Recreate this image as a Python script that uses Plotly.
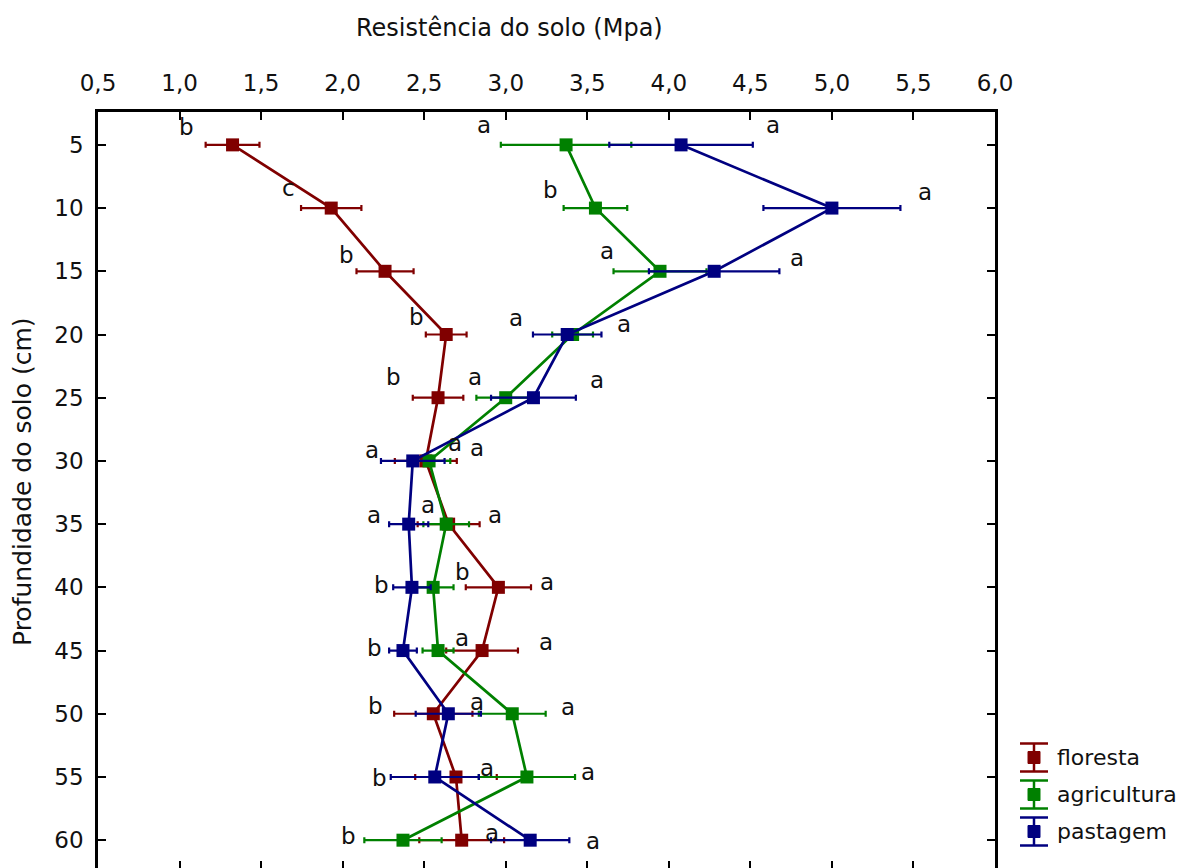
import plotly.graph_objects as go

# ---------------- data ----------------
depth = [5, 10, 15, 20, 25, 30, 35, 40, 45, 50, 55, 60]

floresta = [1.325, 1.93, 2.26, 2.635, 2.585, 2.51, 2.65, 2.955, 2.855, 2.556, 2.695, 2.73]
floresta_err = [0.165, 0.185, 0.175, 0.125, 0.155, 0.19, 0.19, 0.20, 0.22, 0.24, 0.25, 0.26]

agricultura = [3.37, 3.55, 3.946, 3.41, 3.0, 2.53, 2.635, 2.555, 2.585, 3.04, 3.13, 2.37]
agricultura_err = [0.40, 0.195, 0.285, 0.125, 0.18, 0.13, 0.14, 0.125, 0.095, 0.205, 0.295, 0.237]

pastagem = [4.075, 5.0, 4.278, 3.377, 3.17, 2.43, 2.405, 2.425, 2.37, 2.648, 2.565, 3.15]
pastagem_err = [0.44, 0.42, 0.40, 0.21, 0.26, 0.195, 0.12, 0.115, 0.085, 0.20, 0.27, 0.24]

series_names = ["floresta", "agricultura", "pastagem"]
series_colors = ["#800000", "#008000", "#000080"]

# significance letters (text) and where they are written
letters = ["b", "a", "a",
           "c", "b", "a",
           "b", "a", "a",
           "b", "a", "a",
           "b", "a", "a",
           "a", "a", "a",
           "a", "a", "a",
           "b", "b", "a",
           "b", "a", "a",
           "b", "a", "a",
           "b", "a", "a",
           "b", "a", "a"]
letter_x = [1.04, 2.867, 4.64,
            1.665, 3.276, 5.57,
            2.025, 3.619, 4.786,
            2.454, 3.063, 3.725,
            2.309, 2.811, 3.558,
            2.178, 2.689, 2.822,
            2.192, 2.523, 2.934,
            2.239, 2.732, 3.251,
            2.198, 2.73, 3.245,
            2.204, 2.822, 3.382,
            2.229, 2.883, 3.504,
            2.033, 2.914, 3.535]
letter_y = [3.55, 3.4, 3.4,
            8.4, 8.55, 8.75,
            13.7, 13.4, 13.94,
            18.6, 18.7, 19.2,
            23.4, 23.4, 23.6,
            29.1, 28.6, 29.0,
            34.3, 33.5, 34.3,
            39.8, 38.8, 39.6,
            44.8, 44.0, 44.3,
            49.4, 49.1, 49.5,
            55.1, 54.3, 54.6,
            59.7, 59.4, 60.1]

x_title = "Resistência do solo (Mpa)"
y_title = "Profundidade do solo (cm)"

# ---------------- layout geometry ----------------
OFF = 8                      # default page body margin
W, H = 1185 - OFF, 868 - OFF
ML, MR, MT, MB = 98 - OFF, 190, 112 - OFF, 0
PW, PH = W - ML - MR, H - MT - MB
FONT = "DejaVu Sans"
TXT = "#111111"


def px(xp):
    """page pixel x -> paper coordinate"""
    return (xp - OFF - ML) / PW


def py(yp):
    """page pixel y -> paper coordinate"""
    return (H - MB - (yp - OFF)) / PH


fig = go.Figure()

values = [floresta, agricultura, pastagem]
errors = [floresta_err, agricultura_err, pastagem_err]
for name, col, v, e in zip(series_names, series_colors, values, errors):
    fig.add_trace(go.Scatter(
        x=v, y=depth, name=name, mode="lines+markers",
        line=dict(color=col, width=2.7),
        marker=dict(symbol="square", size=13, color=col),
        error_x=dict(type="data", array=e, visible=True, color=col,
                     thickness=2.2, width=3),
        hoverinfo="skip",
    ))

# invisible trace on the bottom tick axis
fig.add_trace(go.Scatter(x=floresta, y=depth, xaxis="x2", mode="markers",
                         marker=dict(opacity=0), hoverinfo="skip",
                         showlegend=False))

annotations = []
for t, lx, ly in zip(letters, letter_x, letter_y):
    annotations.append(dict(x=lx, y=ly, xref="x", yref="y", text=t,
                            showarrow=False,
                            font=dict(family=FONT, size=23, color=TXT),
                            xanchor="center", yanchor="middle"))

annotations.append(dict(x=px(509), y=py(28), xref="paper", yref="paper",
                        text=x_title, showarrow=False,
                        font=dict(family=FONT, size=24, color=TXT),
                        xanchor="center", yanchor="middle"))
annotations.append(dict(x=px(22), y=py(482), xref="paper", yref="paper",
                        text=y_title, showarrow=False, textangle=-90,
                        font=dict(family=FONT, size=25, color=TXT),
                        xanchor="center", yanchor="middle"))

# legend (I-beam glyphs like the original)
shapes = []
leg_cy = [757.5, 794.5, 831.5]
icx = 1034
for name, col, cy in zip(series_names, series_colors, leg_cy):
    shapes.append(dict(type="line", xref="paper", yref="paper",
                       x0=px(icx), x1=px(icx), y0=py(cy - 14), y1=py(cy + 14),
                       line=dict(color=col, width=2.5)))
    for dy in (-14, 14):
        shapes.append(dict(type="line", xref="paper", yref="paper",
                           x0=px(icx - 14), x1=px(icx + 14),
                           y0=py(cy + dy), y1=py(cy + dy),
                           line=dict(color=col, width=2.5)))
    shapes.append(dict(type="rect", xref="paper", yref="paper",
                       x0=px(icx - 6), x1=px(icx + 6),
                       y0=py(cy - 6), y1=py(cy + 6),
                       fillcolor=col, line=dict(color=col, width=1)))
    annotations.append(dict(x=px(1055), y=py(cy), xref="paper", yref="paper",
                            text=name, showarrow=False,
                            font=dict(family=FONT, size=22, color=TXT),
                            xanchor="left", yanchor="middle"))

axis_common = dict(showgrid=False, zeroline=False, ticks="inside",
                   tickcolor="black", tickwidth=2)

fig.update_layout(
    width=W, height=H,
    margin=dict(l=ML, r=MR, t=MT, b=MB, pad=0),
    paper_bgcolor="white", plot_bgcolor="white",
    showlegend=False,
    separators=",.",
    font=dict(family=FONT, size=22, color="black"),
    xaxis=dict(side="top", range=[0.5, 6.0], tick0=0.5, dtick=0.5,
               tickformat=".1f", ticklen=8, showline=True, linecolor="black",
               linewidth=2.5, ticklabelstandoff=9,
               tickfont=dict(family=FONT, size=23, color=TXT),
               **axis_common),
    xaxis2=dict(overlaying="x", side="bottom", anchor="y", range=[0.5, 6.0],
                tick0=0.5, dtick=0.5, ticklen=7, showticklabels=False,
                showline=False, **axis_common),
    yaxis=dict(range=[62.2, 2.4], tick0=5, dtick=5, ticklen=8,
               showline=True, mirror="ticks", linecolor="black",
               linewidth=2.5, ticklabelstandoff=7,
               tickfont=dict(family=FONT, size=23, color=TXT),
               **axis_common),
    annotations=annotations,
    shapes=shapes,
)

fig.write_html("out.html")
